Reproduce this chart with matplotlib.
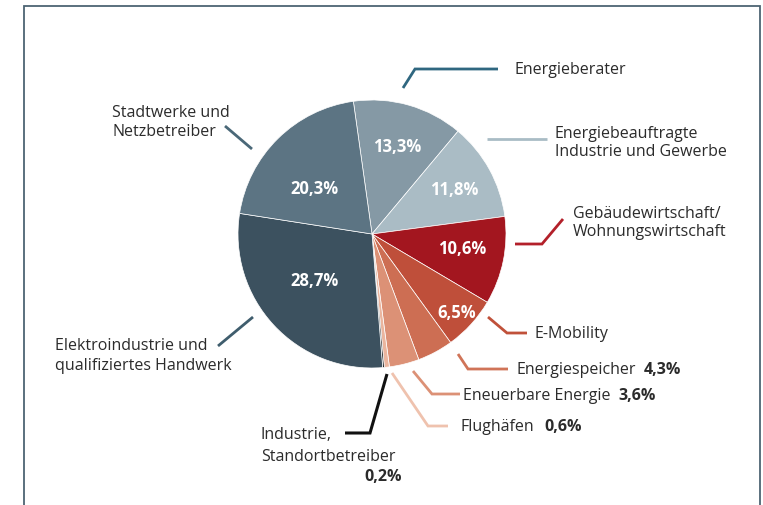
import matplotlib
matplotlib.use("Agg")
import matplotlib.pyplot as plt
import numpy as np

# ---- data ----
categories = ["Energieberater", "Energiebeauftragte Industrie und Gewerbe",
              "Gebäudewirtschaft/Wohnungswirtschaft", "E-Mobility", "Energiespeicher",
              "Eneuerbare Energie", "Flughäfen", "Industrie, Standortbetreiber",
              "Elektroindustrie und qualifiziertes Handwerk", "Stadtwerke und Netzbetreiber"]
values = [13.3, 11.8, 10.6, 6.5, 4.3, 3.6, 0.6, 0.2, 28.7, 20.3]
pct_labels = ["13,3%", "11,8%", "10,6%", "6,5%", "4,3%", "3,6%", "0,6%", "0,2%", "28,7%", "20,3%"]

colors = ["#8599a5", "#aabcc5", "#a3161f", "#bf4f3a", "#cd6e53", "#dc9176",
          "#eab59e", "#1c1c1c", "#3c515f", "#5c7483"]
line_colors = ["#2f6780", "#a9bcc5", "#b3202a", "#c0513a", "#d07458", "#dc9176",
               "#efc2ae", "#111111", "#3f5d6d", "#4a6878"]

FONT = "Open Sans"
TXT = "#2b2b2b"
FS = 11.5
FS_IN = 12
W, H = 763, 506

fig = plt.figure(figsize=(W / 100, H / 100), dpi=100)
ax = fig.add_axes([0, 0, 1, 1])

def Y(y):
    return H - y

cx, cy, R = 372, 235, 134
wedges, _ = ax.pie(values, colors=colors, startangle=98, counterclock=False,
                   center=(cx, Y(cy)), radius=R, frame=True,
                   wedgeprops=dict(edgecolor="white", linewidth=0.5))

# inside labels (index -> radial fraction, angle offset in deg)
inside = {0: (0.68, 0), 1: (0.70, 0), 2: (0.68, 3), 3: (0.86, 0), 8: (0.55, -4), 9: (0.55, 7)}
for i, (frac, dth) in inside.items():
    w = wedges[i]
    th = np.deg2rad((w.theta1 + w.theta2) / 2 + dth)
    ax.text(cx + R * frac * np.cos(th), Y(cy) + R * frac * np.sin(th), pct_labels[i],
            color="white", fontsize=FS_IN, fontweight="bold", family=FONT,
            ha="center", va="center")

# leader lines (pixel layout) and outer labels
leaders = {
    0: [(403, 89), (415, 70), (498, 70)],
    1: [(487, 140), (547, 140)],
    2: [(515, 245), (542, 245), (563, 220)],
    3: [(488, 318), (507, 334), (527, 334)],
    4: [(458, 355), (468, 370), (508, 370)],
    5: [(413, 372), (432, 395), (460, 395)],
    6: [(392, 374), (428, 427), (448, 427)],
    7: [(387, 375), (370, 434), (345, 434)],
    8: [(253, 318), (218, 347)],
    9: [(252, 150), (225, 127)],
}
for i, pts in leaders.items():
    xs = [p[0] for p in pts]
    ys = [Y(p[1]) for p in pts]
    ax.plot(xs, ys, color=line_colors[i], lw=2.0 if i != 7 else 2.2,
            solid_capstyle="butt", solid_joinstyle="miter")

def label(x, y, s, ha="left", bold=False, ls=1.25):
    return ax.text(x, Y(y), s, ha=ha, va="center", fontsize=FS, family=FONT, color=TXT,
                   fontweight="bold" if bold else "normal", linespacing=ls)

def pct_after(t, s, gap=5):
    ax.annotate(s, xy=(1, 0.5), xycoords=t, xytext=(gap, 0), textcoords="offset points",
                ha="left", va="center", fontsize=FS, family=FONT, color=TXT,
                fontweight="bold")

label(515, 70, "Energieberater")
label(555, 143, "Energiebeauftragte\nIndustrie und Gewerbe")
label(573, 223, "Gebäudewirtschaft/\nWohnungswirtschaft")
label(535, 334, "E-Mobility")
pct_after(label(517, 370, "Energiespeicher"), pct_labels[4], gap=5)
pct_after(label(463, 396, "Eneuerbare Energie"), pct_labels[5], gap=6)
pct_after(label(460, 427, "Flughäfen"), pct_labels[6], gap=8)
label(261, 435, "Industrie,")
label(261, 457, "Standortbetreiber")
label(402, 477, pct_labels[7], ha="right", bold=True)
label(112, 122, "Stadtwerke und\nNetzbetreiber")
label(55, 356, "Elektroindustrie und\nqualifiziertes Handwerk")

# frame
ax.plot([24, 24, 760, 760], [Y(510), Y(7), Y(7), Y(510)], color="#4d6473", lw=1.3,
        solid_joinstyle="miter")

ax.set_xlim(0, W)
ax.set_ylim(0, H)
ax.set_aspect("equal")
ax.axis("off")
fig.savefig("out.png", dpi=100)
